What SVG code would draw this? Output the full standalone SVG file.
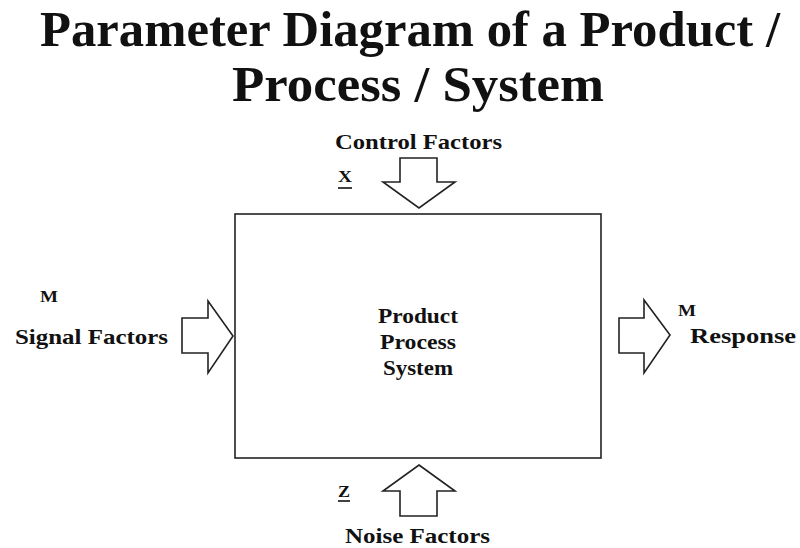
<svg xmlns="http://www.w3.org/2000/svg" width="800" height="548" viewBox="0 0 800 548">
  <style>
    text { font-family: "Liberation Serif", "DejaVu Serif", serif; font-weight: bold; fill: #111; }
    .title { font-size: 50px; }
    .label { font-size: 22px; }
    .small { font-size: 17px; }
    .inner { font-size: 20px; }
    .shape { fill: #fff; stroke: #222; stroke-width: 1.6; stroke-linejoin: miter; }
  </style>
  <rect width="800" height="548" fill="#fff"/>

  <g id="title">
    <text class="title" x="410" y="46" text-anchor="middle" textLength="740" lengthAdjust="spacingAndGlyphs">Parameter Diagram of a Product /</text>
    <text class="title" x="418" y="101" text-anchor="middle" textLength="372" lengthAdjust="spacingAndGlyphs">Process / System</text>
  </g>

  <g id="system">
    <rect class="shape" x="235" y="214" width="366" height="244"/>
    <text class="inner" x="418" y="323" text-anchor="middle" textLength="80" lengthAdjust="spacingAndGlyphs">Product</text>
    <text class="inner" x="418" y="349" text-anchor="middle" textLength="76" lengthAdjust="spacingAndGlyphs">Process</text>
    <text class="inner" x="418" y="375" text-anchor="middle" textLength="70" lengthAdjust="spacingAndGlyphs">System</text>
  </g>

  <g id="connectors">
    <!-- control factors: down arrow -->
    <polygon class="shape" points="400,158 437,158 437,182 455,182 419,208 383,182 400,182"/>
    <!-- noise factors: up arrow -->
    <polygon class="shape" points="419,465 455,491 437,491 437,516 400,516 400,491 383,491"/>
    <!-- signal factors: right arrow into system -->
    <polygon class="shape" points="182,318 208,318 208,301 233,336 208,373 208,353 182,353"/>
    <!-- response: right arrow out of system -->
    <polygon class="shape" points="619,318 644,318 644,300 670,335 644,373 644,353 619,353"/>
  </g>

  <g id="control">
    <text class="label" x="335" y="149" textLength="167" lengthAdjust="spacingAndGlyphs">Control Factors</text>
    <text class="small" x="338" y="182" textLength="14" lengthAdjust="spacingAndGlyphs">X</text>
    <line x1="338" y1="188" x2="352" y2="188" stroke="#111" stroke-width="1.6"/>
  </g>

  <g id="signal">
    <text class="small" x="40" y="302" textLength="18" lengthAdjust="spacingAndGlyphs">M</text>
    <text class="label" x="15" y="344" textLength="153" lengthAdjust="spacingAndGlyphs">Signal  Factors</text>
  </g>

  <g id="response">
    <text class="small" x="678" y="316" textLength="18" lengthAdjust="spacingAndGlyphs">M</text>
    <text class="label" x="690" y="343" textLength="106" lengthAdjust="spacingAndGlyphs">Response</text>
  </g>

  <g id="noise">
    <text class="small" x="338" y="497" textLength="12" lengthAdjust="spacingAndGlyphs">Z</text>
    <line x1="338" y1="501" x2="350" y2="501" stroke="#111" stroke-width="1.6"/>
    <text class="label" x="345" y="543" textLength="145" lengthAdjust="spacingAndGlyphs">Noise Factors</text>
  </g>
</svg>
